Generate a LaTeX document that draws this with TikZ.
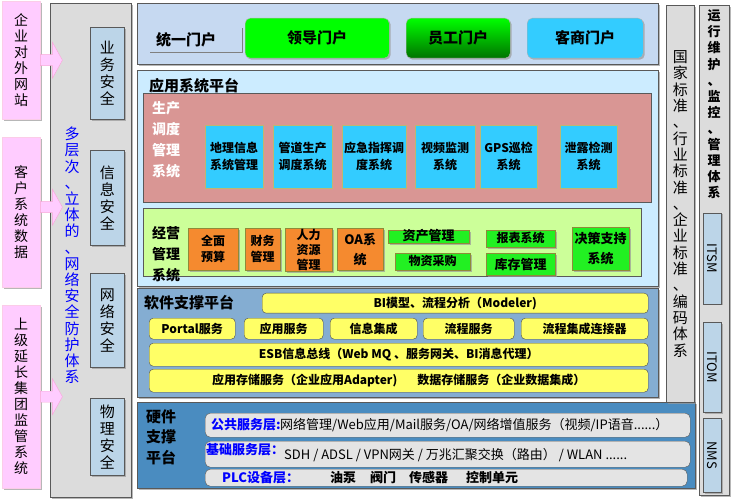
\documentclass[tikz,border=0pt]{standalone}
\usepackage{fontspec}
\setmainfont{Noto Sans CJK SC}
\usetikzlibrary{shadows}

\definecolor{sidegray}{HTML}{DCDCDC}
\definecolor{sitepink}{HTML}{FFCCFF}
\definecolor{secblue}{HTML}{BCD5E8}
\definecolor{portalbg}{HTML}{C6D9F1}
\definecolor{appbg}{HTML}{CCECFF}
\definecolor{prodbg}{HTML}{D99694}
\definecolor{sysblue}{HTML}{33CCFF}
\definecolor{bizbg}{HTML}{CCFF99}
\definecolor{bizorange}{HTML}{F58A2F}
\definecolor{bizgreen}{HTML}{22F022}
\definecolor{softbg}{HTML}{84ADD2}
\definecolor{svcyellow}{HTML}{FFFF66}
\definecolor{hardbg}{HTML}{4A8CC0}
\definecolor{layergray}{HTML}{E4E4E4}

\tikzset{
  box/.style={anchor=north west, inner sep=1pt, align=center},
  wh/.style 2 args={minimum width=#1, minimum height=#2},
  shade/.style={drop shadow={shadow xshift=1.5pt, shadow yshift=-1.5pt, fill=gray!80, opacity=.7}},
  panel/.style={box, draw=gray!70!black, line width=.8pt, shade},
  site/.style={box, fill=sitepink, draw=magenta!20, shade, font=\fontsize{14}{16}\selectfont},
  pinkarrow/.style={fill=sitepink, draw=magenta!35},
  sec/.style={box, fill=secblue, draw=gray!70!black, line width=.8pt, shade, font=\fontsize{15}{17}\selectfont},
  gate/.style={box, rounded corners=5pt, draw=gray!60, shade, font=\fontsize{15}{17}\selectfont\bfseries},
  sys/.style={box, fill=sysblue, draw=yellow!40!gray, minimum height=63, font=\fontsize{12}{17}\selectfont\bfseries},
  fin/.style={box, fill=bizorange, draw=olive!60!gray, shade, minimum height=42, font=\fontsize{12}{16}\selectfont\bfseries},
  grn/.style={box, fill=bizgreen, draw=olive!60!gray, shade, font=\fontsize{12}{15}\selectfont\bfseries},
  svc/.style={box, fill=svcyellow, draw=gray!60!black, rounded corners=4pt, font=\fontsize{12}{14}\selectfont\bfseries},
  layer/.style={box, fill=layergray, draw=gray!70!black, rounded corners=5pt},
  ttl/.style={anchor=west, inner sep=0, font=\fontsize{15}{17}\selectfont\bfseries},
  lbl/.style={anchor=west, inner sep=0, text=blue, font=\fontsize{13}{15}\selectfont\bfseries},
  txt/.style={anchor=west, inner sep=0, font=\fontsize{13}{15}\selectfont},
  tool/.style={rotate=-90, inner sep=0, fill=secblue, draw=gray!70!black, line width=.8pt, shade, font=\fontsize{13}{15}\selectfont}
}

\begin{document}
\begin{tikzpicture}[x=1pt, y=-1pt]
\useasboundingbox (0,0) rectangle (732,500);

% security column
\node[panel, fill=sidegray, wh={81}{494}] (guard) at (50,3) {};
\node[site, wh={38}{118}] (site) at (2,1) {企\\业\\对\\外\\网\\站};
\node[site, wh={38}{150}] (cust) at (2,137) {客\\户\\系\\统\\数\\据};
\node[site, wh={38}{183}] (group) at (2,305) {上\\级\\延\\长\\集\\团\\监\\管\\系\\统};
\foreach \s/\d in {site/0, cust/5, group/0}
  \filldraw[pinkarrow] ([yshift=5.5pt+\d pt]\s.east) -- ++(12,0) -- ++(0,-12.5)
    -- ++(10,18) -- ++(-10,18) -- ++(0,-12.5) -- ++(-12,0) -- cycle;
\node[font=\fontsize{15}{16.2}\selectfont, text=blue, align=center] (motto) at (72,255.5)
  {多\\层\\次\\、\\立\\体\\的\\、\\网\\络\\安\\全\\防\\护\\体\\系};
\node[sec, wh={34}{92}] (bizsec) at (90,27) {业\\务\\安\\全};
\node[sec, wh={34}{95}] (infosec) at (90,150) {信\\息\\安\\全};
\node[sec, wh={34}{94}] (netsec) at (90,273) {网\\络\\安\\全};
\node[sec, wh={34}{77}] (physec) at (90,398) {物\\理\\安\\全};

% portal
\node[panel, fill=portalbg, wh={521}{61}] (portal) at (137,3) {};
\node[box, wh={92}{24}, inner xsep=6pt, text width=80, align=left, font=\fontsize{15}{17}\selectfont\bfseries] (uni) at (150,28) {统一门户};
\draw[gray, line width=1.2pt] (uni.south west) -- (uni.south east) -- (uni.north east);
\node[gate, fill=green, wh={144}{40}] (leader) at (245,18) {领导门户};
\node[gate, top color=green, bottom color=green!45!black, wh={104}{40}] (staff) at (406,18) {员工门户};
\node[gate, fill=sysblue, wh={116}{40}] (partner) at (527,18) {客商门户};

% application platform
\node[panel, fill=appbg, wh={521}{216}] (app) at (137,70) {};
\node[ttl] (apptitle) at (149,86) {应用系统平台};
\node[box, fill=prodbg, draw=gray!70!black, wh={508}{109}] (prod) at (143,93) {};
\node[font=\fontsize{14}{21}\selectfont\bfseries, text=white, align=center] (prodtitle) at (166,140) {生产\\调度\\管理\\系统};
\node[sys, minimum width=58] (geo) at (205,125) {地理信息\\系统管理};
\node[sys, minimum width=59] (pipe) at (273,125) {管道生产\\调度系统};
\node[sys, minimum width=64] (emerg) at (342,125) {应急指挥调\\度系统};
\node[sys, minimum width=60] (video) at (415,125) {视频监测\\系统};
\node[sys, minimum width=57] (gps) at (480,125) {GPS巡检\\系统};
\node[sys, minimum width=57] (leak) at (560,125) {泄露检测\\系统};

\node[box, fill=bizbg, draw=gray!70!black, wh={498}{68}] (biz) at (143,208) {};
\node[font=\fontsize{14}{21}\selectfont\bfseries, align=center] (biztitle) at (166,254) {经营\\管理\\系统};
\node[fin, minimum width=50] (budget) at (188,228) {全面\\预算};
\node[fin, minimum width=35] (finance) at (245,228) {财务\\管理};
\node[fin, minimum width=47, font=\fontsize{12}{15}\selectfont\bfseries] (hr) at (285,228) {人力\\资源\\管理};
\node[fin, minimum width=46, font=\fontsize{13}{20}\selectfont\bfseries] (oa) at (337,228) {OA系\\统};
\node[grn, wh={81}{13}, font=\fontsize{13}{15}\selectfont\bfseries, text height=9pt, text depth=1pt] (asset) at (388,230) {资产管理};
\node[grn, wh={75}{17}, text height=9pt, text depth=1pt] (purchase) at (395,253) {物资采购};
\node[grn, wh={69}{17}, text height=9pt, text depth=1pt] (report) at (486,230) {报表系统};
\node[grn, wh={69}{22}, font=\fontsize{13}{15}\selectfont\bfseries] (stock) at (486,253) {库存管理};
\node[grn, wh={57}{43}, font=\fontsize{13}{20}\selectfont\bfseries] (decision) at (572,227) {决策支持\\系统};

% software platform
\node[panel, fill=softbg, wh={521}{109}] (soft) at (137,288) {};
\node[ttl] (softtitle) at (144,303) {软件支撑平台};
\node[svc, wh={386}{20}] (bi) at (262,293) {BI模型、流程分析（Modeler)};
\node[svc, wh={86}{21}] (portalsvc) at (149,318) {Portal服务};
\node[svc, wh={79}{21}] (appsvc) at (244,318) {应用服务};
\node[svc, wh={87}{21}] (infoint) at (330,318) {信息集成};
\node[svc, wh={91}{21}] (flowsvc) at (423,318) {流程服务};
\node[svc, wh={127}{21}] (flowconn) at (521,318) {流程集成连接器};
\node[svc, wh={499}{23}] (esb) at (149,343) {ESB信息总线（Web MQ 、服务网关、BI消息代理）};
\node[svc, wh={499}{23}] (store) at (149,369) {应用存储服务（企业应用Adapter)\hspace{20pt}数据存储服务（企业数据集成）};

% hardware platform
\node[panel, fill=hardbg, wh={558}{86}] (hard) at (137,402) {};
\node[font=\fontsize{15}{20.5}\selectfont\bfseries, align=center] (hardtitle) at (161,437) {硬件\\支撑\\平台};
\node[layer, wh={485}{24}] (pub) at (205,413) {};
\node[layer, wh={485}{26}] (base) at (205,441) {};
\node[layer, wh={482}{17}] (plc) at (205,469) {};
\node[lbl] (publbl) at (211,425) {公共服务层:};
\node[txt] (pubtxt) at (280,425) {网络管理/Web应用/Mail服务/OA/网络增值服务（视频/IP语音......）};
\node[lbl] (baselbl) at (206,450) {基础服务层：};
\node[txt] (basetxt) at (284,455) {SDH / ADSL / VPN网关 / 万兆汇聚交换（路由） / WLAN ......};
\node[lbl] (plclbl) at (222,478) {PLC设备层：};
\node[txt, font=\fontsize{13}{15}\selectfont\bfseries] (plctxt) at (330,478) {油泵\hspace{14pt}阀门\hspace{13pt}传感器\hspace{18pt}控制单元};

% standards and operations
\node[panel, fill=sidegray, wh={28}{397}, font=\fontsize{15}{16.3}\selectfont] (stdcol) at (666,5)
  {国\\家\\标\\准\\、\\行\\业\\标\\准\\、\\企\\业\\标\\准\\、\\编\\码\\体\\系};
\node[panel, fill=sidegray, wh={30}{490}] (opscol) at (699,5) {};
\node[font=\fontsize{13}{16.1}\selectfont\bfseries, align=center] (opstext) at (714,104.5)
  {运\\行\\维\\护\\、\\监\\控\\、\\管\\理\\体\\系};
\node[tool, wh={91}{18}] (itsm) at (712,258.5) {ITSM};
\node[tool, wh={90}{18}] (itom) at (712,367) {ITOM};
\node[tool, wh={74}{18}] (nms) at (712,455) {NMS};
\end{tikzpicture}
\end{document}
